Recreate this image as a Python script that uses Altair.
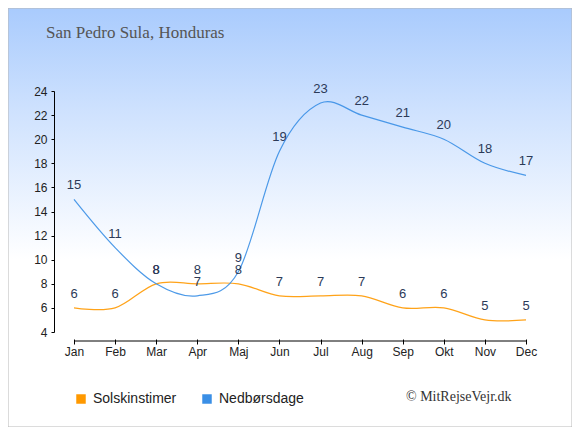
import altair as alt
import pandas as pd

months = ["Jan", "Feb", "Mar", "Apr", "Maj", "Jun", "Jul", "Aug", "Sep", "Okt", "Nov", "Dec"]
sun_line = [6, 6, 8, 8, 8, 7, 7, 7, 6, 6, 5, 5]
rain_line = [15, 11, 8, 7, 9, 19, 23, 22, 21, 20, 18, 17]
sun_label = [6, 6, 8, 7, 8, 7, 7, 7, 6, 6, 5, 5]
rain_label = [15, 11, 8, 8, 9, 19, 23, 22, 21, 20, 18, 17]
series_names = ["Solskinstimer", "Nedbørsdage"]
series_colors = ["#ff9900", "#3a8fe6"]
y_ticks = [4, 6, 8, 10, 12, 14, 16, 18, 20, 22, 24]
title_text = "San Pedro Sula, Honduras"
credit_text = "© MitRejseVejr.dk"

W, H = 492, 241
PL, PT, PR, PB = 46, 83, 26, 95

rows = []
for i, m in enumerate(months):
    rows.append({"month": m, "series": series_names[0], "value": sun_line[i], "label": sun_label[i]})
    rows.append({"month": m, "series": series_names[1], "value": rain_line[i], "label": rain_label[i]})
df = pd.DataFrame(rows)

xscale = alt.Scale(type="point", domain=months, padding=0.4865)
yscale = alt.Scale(domain=[4, 24], zero=False, nice=False)
cscale = alt.Scale(domain=series_names, range=series_colors)

x_axis = alt.Axis(title=None, domain=False, offset=7, tickSize=5, tickColor="#000",
                  labelAngle=0, labelFont="Liberation Sans", labelFontSize=12,
                  labelColor="#222", labelPadding=2, grid=False, zindex=2)
y_axis = alt.Axis(title=None, values=y_ticks, tickSize=3, tickColor="#000",
                  domainColor="#000", labelFont="Liberation Sans", labelFontSize=12,
                  labelColor="#222", labelPadding=4, labelOverlap=False,
                  grid=False, zindex=2)
legend = alt.Legend(title=None, orient="none", legendX=20, legendY=301,
                    direction="horizontal", symbolType="square", symbolSize=90,
                    symbolStrokeWidth=0,
                    labelFont="Liberation Sans", labelFontSize=14, labelColor="#222",
                    labelOffset=5, columnPadding=23, zindex=2)

X = alt.X("month:O", scale=xscale, sort=months, axis=x_axis)
Y = alt.Y("value:Q", scale=yscale, axis=y_axis)
C = alt.Color("series:N", scale=cscale, legend=legend)

bg = alt.Chart(pd.DataFrame({"a": [0]})).mark_rect(
    fill=alt.Gradient(
        gradient="linear",
        stops=[
            alt.GradientStop(offset=0, color="#a9cbfd"),
            alt.GradientStop(offset=0.25, color="#cfe2fe"),
            alt.GradientStop(offset=0.6, color="#ffffff"),
            alt.GradientStop(offset=1, color="#ffffff"),
        ],
        x1=0, x2=0, y1=0, y2=1,
    ),
    stroke="#b8b8b8",
    strokeWidth=1,
).encode(
    x=alt.value(-PL), x2=alt.value(W + PR), y=alt.value(-PT), y2=alt.value(H + PB)
)

base = alt.Chart(df)

pts = base.mark_square(size=0, opacity=1).encode(x=X, y=Y, color=C)

lines = base.mark_line(interpolate="cardinal").encode(
    x=X, y=Y, color=C, strokeWidth=alt.value(1.2), opacity=alt.value(0.9)
)

labels = base.transform_calculate(value="datum.label").mark_text(
    dy=-14, baseline="middle", font="Liberation Sans", fontSize=13, color="#2c3a58"
).encode(x=X, y=Y, text=alt.Text("label:Q"))

xrule = alt.Chart(pd.DataFrame({"month": [months[0]], "b": [months[-1]]})).mark_rule(
    color="#000", strokeWidth=1
).encode(x=X, x2="b", y=alt.value(H + 9))

title = alt.Chart(pd.DataFrame({"t": [title_text]})).mark_text(
    align="left", baseline="alphabetic", font="Liberation Serif", fontSize=17, color="#555"
).encode(text="t:N", x=alt.value(-8), y=alt.value(-53))

credit = alt.Chart(pd.DataFrame({"t": [credit_text]})).mark_text(
    align="left", baseline="middle", font="Liberation Serif", fontSize=14, color="#333"
).encode(text="t:N", x=alt.value(352), y=alt.value(306))

chart = alt.layer(bg, pts, xrule, lines, labels, title, credit).properties(
    width=W, height=H,
    padding={"left": PL, "top": PT, "right": PR, "bottom": PB},
    autosize=alt.AutoSizeParams(type="none"),
).configure_view(stroke=None).configure(background="white")

chart.save("out.html", embed_options={"renderer": "svg", "actions": False})
